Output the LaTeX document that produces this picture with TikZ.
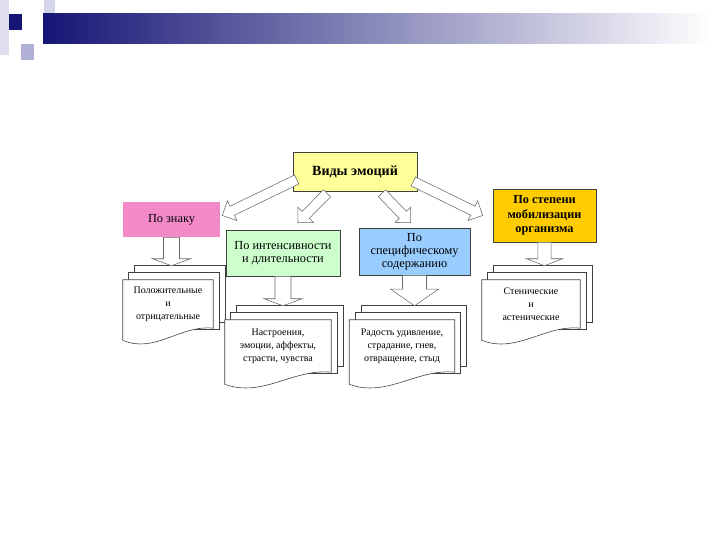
\documentclass[tikz,border=0pt]{standalone}
\usepackage{fontspec}
\setmainfont{Liberation Serif}
\usetikzlibrary{calc,backgrounds}
\definecolor{slidenavy}{RGB}{22,22,118}
\definecolor{slidelav}{RGB}{176,176,214}
\definecolor{slidepale}{RGB}{222,222,238}
\definecolor{titleyellow}{RGB}{255,255,153}
\definecolor{signpink}{RGB}{242,138,200}
\definecolor{intensgreen}{RGB}{204,255,204}
\definecolor{contentblue}{RGB}{153,204,255}
\definecolor{mobilorange}{RGB}{255,204,0}

% hollow block arrow: tail, tip, shaft half width, head half width, head length
\newcommand{\fatarrow}[5]{%
  \coordinate (fa-base) at ($(#2)!#5!(#1)$);
  \draw[blockarrow] ($(#1)!#3!90:(#2)$) -- ($(fa-base)!#3!90:(#2)$) -- ($(fa-base)!#4!90:(#2)$) -- (#2)
    -- ($(fa-base)!#4!-90:(#2)$) -- ($(fa-base)!#3!-90:(#2)$) -- ($(#1)!#3!-90:(#2)$) -- cycle;}

% three stacked sheets behind a text node
\newcommand{\docstack}[1]{%
  \begin{scope}[on background layer]
    \foreach \k in {2,1} {
      \draw[docsheet] ($(#1.north west)+(6*\k,-7*\k)$) rectangle ($(#1.south east)+(6*\k,-7*\k+8)$);
    }
    \draw[docsheet] (#1.north west) -- (#1.north east) -- (#1.south east)
      .. controls ($(#1.south west)!0.65!(#1.south east)+(0,-4)$) and ($(#1.south west)!0.35!(#1.south east)+(0,26)$) .. ($(#1.south west)+(0,12)$) -- cycle;
  \end{scope}}

\begin{document}
\begin{tikzpicture}[x=0.03cm, y=-0.03cm,
  kindbox/.style={draw=black!75, line width=0.5pt, align=center, inner sep=2pt, font=\fontsize{10.5}{11}\selectfont},
  doctext/.style={align=center, inner sep=0pt, font=\fontsize{8.5}{11}\selectfont},
  docsheet/.style={draw=black!75, line width=0.5pt, fill=white},
  blockarrow/.style={draw=black!60, line width=0.45pt, fill=white}]
\useasboundingbox (0,0) rectangle (720,540);
\fill[slidepale] (0,0) rectangle (9,55);
\fill[slidepale!80!slidelav] (44,0) rectangle (55,30);
\fill[slidenavy] (9,14) rectangle (22,30);
\fill[slidelav] (21,44) rectangle (34,60);
\shade[left color=slidenavy, right color=white] (43,14) rectangle (712,44);

\node[kindbox, fill=titleyellow, minimum width=3.72cm, minimum height=1.17cm, font=\fontsize{12}{13}\selectfont\bfseries] (title) at (355,171.5) {Виды эмоций};
\node[kindbox, fill=signpink, draw=none, minimum width=2.91cm, minimum height=1.05cm] (sign) at (171.5,219.5) {По знаку};
\node[kindbox, fill=intensgreen, minimum width=3.42cm, minimum height=1.38cm] (intens) at (283,253) {По интенсивности\\и длительности};
\node[kindbox, fill=contentblue, minimum width=3.33cm, minimum height=1.41cm] (content) at (414.5,251.5) {По\\специфическому\\содержанию};
\node[kindbox, fill=mobilorange, minimum width=3.09cm, minimum height=1.59cm, font=\fontsize{10.5}{12.5}\selectfont\bfseries] (mobil) at (544.5,215.5) {По степени\\мобилизации\\организма};

\node[doctext, minimum width=2.7cm, minimum height=1.44cm] (d1) at (168,304) {Положительные\\и\\отрицательные};
\node[doctext, minimum width=3.18cm, minimum height=1.56cm] (d2) at (278,346) {Настроения,\\эмоции, аффекты,\\страсти, чувства};
\node[doctext, minimum width=3.15cm, minimum height=1.56cm] (d3) at (402,346) {Радость удивление,\\страдание, гнев,\\отвращение, стыд};
\node[doctext, minimum width=2.94cm, minimum height=1.44cm] (d4) at (531,304) {Стенические\\и\\астенические};
\docstack{d1}
\docstack{d2}
\docstack{d3}
\docstack{d4}

\coordinate (t1) at ([shift={(4,8)}]title.west);
\coordinate (h1) at ([shift={(2,-4)}]sign.east);
\coordinate (t2) at ([shift={(-28,2)}]title.south);
\coordinate (h2) at ([shift={(15,-7)}]intens.north);
\coordinate (t3) at ([shift={(27,2)}]title.south);
\coordinate (h3) at ([shift={(-4,-5)}]content.north);
\coordinate (t4) at ([shift={(-4,10)}]title.east);
\coordinate (h4) at ([shift={(-10,0)}]mobil.west);
\fatarrow{t1}{h1}{0.15cm}{0.33cm}{0.33cm}
\fatarrow{t2}{h2}{0.15cm}{0.33cm}{0.33cm}
\fatarrow{t3}{h3}{0.15cm}{0.33cm}{0.33cm}
\fatarrow{t4}{h4}{0.15cm}{0.33cm}{0.33cm}

\coordinate (v1) at ($(sign.south |- d1.north)+(0,-14)$);
\coordinate (v2) at ($(intens.south |- d2.north)+(0,-14)$);
\coordinate (v3) at ($(content.south |- d3.north)+(0,-14)$);
\coordinate (v4) at ($(mobil.south |- d4.north)+(0,-14)$);
\fatarrow{sign.south}{v1}{0.24cm}{0.57cm}{0.21cm}
\fatarrow{intens.south}{v2}{0.24cm}{0.57cm}{0.21cm}
\fatarrow{content.south}{v3}{0.36cm}{0.72cm}{0.5cm}
\fatarrow{mobil.south}{v4}{0.2cm}{0.54cm}{0.21cm}
\end{tikzpicture}
\end{document}
